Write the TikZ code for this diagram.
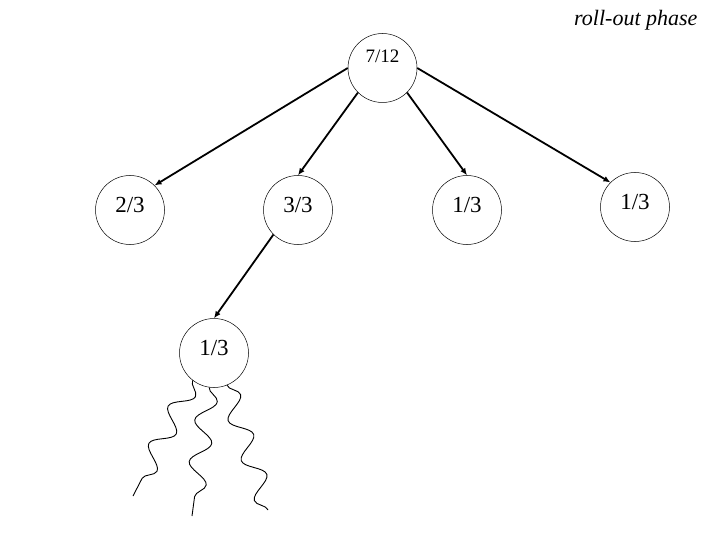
\documentclass[tikz,border=0pt]{standalone}
\usepackage{fontspec}
\setmainfont{Liberation Serif}
\usetikzlibrary{arrows.meta,decorations.pathmorphing}

\begin{document}
\begin{tikzpicture}[
  x=1pt,y=-1pt,
  state/.style={draw,circle,line width=0.5pt,minimum size=69pt,inner sep=0pt,text height=15pt,text depth=10pt,font=\fontsize{23}{25}\selectfont},
  arrow/.style={-{Latex[length=7pt,width=6pt]},line width=1.8pt},
  wave/.style={line width=0.9pt,decorate,decoration={snake,segment length=42pt,amplitude=10pt}}
]
  \useasboundingbox (0,0) rectangle (720,540);

  \node[font=\fontsize{22}{24}\selectfont\itshape,anchor=base east] (phase) at (701,26) {roll-out phase};

  \node[state,font=\fontsize{19}{21}\selectfont,text height=13pt,text depth=24pt] (root) at (382.5,68) {7/12};
  \node[state] (c1) at (130,210) {2/3};
  \node[state] (c2) at (298,210) {3/3};
  \node[state] (c3) at (467,210) {1/3};
  \node[state] (c4) at (635,207) {1/3};
  \node[state] (g) at (214,353) {1/3};

  \draw[arrow] (root.west) -- (c1.north east);
  \draw[arrow] (root.south west) -- (c2.north);
  \draw[arrow] (root.south east) -- (c3.north);
  \draw[arrow] (root.east) -- (c4.north west);
  \draw[arrow] (c2.south west) -- (g.north);

  % roll-outs
  \coordinate (wl) at (133,496);
  \coordinate (wm) at (192,516);
  \coordinate (wr) at (268,510);
  \draw[wave] (g.232) -- (wl);
  \draw[wave] (g.262) -- (wm);
  \draw[wave] (g.292) -- (wr);
\end{tikzpicture}
\end{document}
